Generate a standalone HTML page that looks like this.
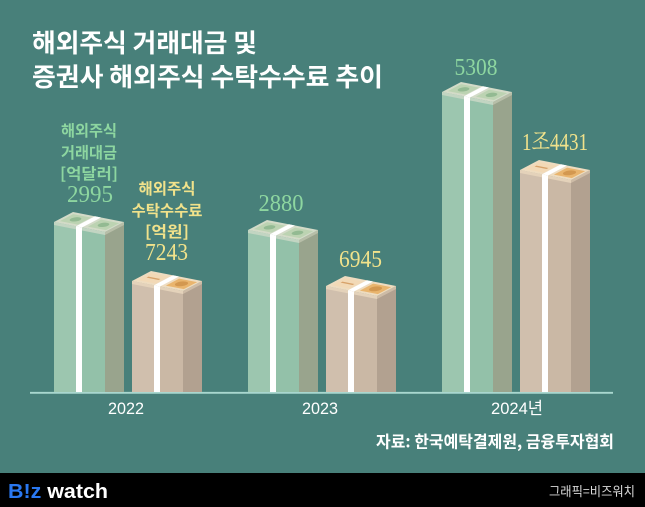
<!DOCTYPE html>
<html><head><meta charset="utf-8"><style>
html,body{margin:0;padding:0;background:#48807a;}
svg{display:block}
</style></head><body>
<svg width="645" height="507" viewBox="0 0 645 507" xmlns="http://www.w3.org/2000/svg">
<rect x="0" y="0" width="645" height="474" fill="#48807a"/>
<rect x="0" y="473" width="645" height="34" fill="#000"/>

<!-- Title -->
<g font-family="'Noto Sans CJK KR','Liberation Sans',sans-serif" font-weight="bold" fill="#fff" font-size="25.5">
<text x="32" y="52" textLength="225" lengthAdjust="spacingAndGlyphs">해외주식 거래대금 및</text>
<text x="32" y="86" textLength="351" lengthAdjust="spacingAndGlyphs">증권사 해외주식 수탁수수료 추이</text>
</g>

<!-- baseline -->
<line x1="30" y1="392.8" x2="613" y2="392.8" stroke="#a9d7cf" stroke-width="1.8"/>

<!-- ===== GREEN BARS ===== -->
<g transform="translate(54,222)">
 <polygon points="0,0 51,10 51,170 0,170" fill="#93c1a9"/>
 <polygon points="0,0 22,4.3 22,170 0,170" fill="#9cc6af"/>
 <polygon points="51,10 70,0 70,170 51,170" fill="#99a48d"/>
 <polygon points="0,0 51,10 51,13 0,3" fill="#c2d5c2"/>
 <polygon points="51,10 70,0 70,3 51,13" fill="#b7bea8"/>
 <polygon points="22,4.3 28,5.5 28,170 22,170" fill="#fff"/>
 <g transform="matrix(1,0.196,0.95,-0.5,0,0)">
  <rect width="51" height="20" fill="#d3dbc8"/>
  <rect x="3" y="3" width="18" height="14" fill="#bcd3b2"/>
  <ellipse cx="12" cy="10" rx="4.5" ry="4" fill="#93ba92"/>
  <rect x="31" y="3" width="18" height="14" fill="#bcd3b2"/>
  <ellipse cx="40" cy="10" rx="4.5" ry="4" fill="#93ba92"/>
  <rect x="22" y="0" width="6" height="20" fill="#fff"/>
 </g>
</g>
<g transform="translate(248,230)">
 <polygon points="0,0 51,10 51,162 0,162" fill="#93c1a9"/>
 <polygon points="0,0 22,4.3 22,162 0,162" fill="#9cc6af"/>
 <polygon points="51,10 70,0 70,162 51,162" fill="#99a48d"/>
 <polygon points="0,0 51,10 51,13 0,3" fill="#c2d5c2"/>
 <polygon points="51,10 70,0 70,3 51,13" fill="#b7bea8"/>
 <polygon points="22,4.3 28,5.5 28,162 22,162" fill="#fff"/>
 <g transform="matrix(1,0.196,0.95,-0.5,0,0)">
  <rect width="51" height="20" fill="#d3dbc8"/>
  <rect x="3" y="3" width="18" height="14" fill="#bcd3b2"/>
  <ellipse cx="12" cy="10" rx="4.5" ry="4" fill="#93ba92"/>
  <rect x="31" y="3" width="18" height="14" fill="#bcd3b2"/>
  <ellipse cx="40" cy="10" rx="4.5" ry="4" fill="#93ba92"/>
  <rect x="22" y="0" width="6" height="20" fill="#fff"/>
 </g>
</g>
<g transform="translate(442,92)">
 <polygon points="0,0 51,10 51,300 0,300" fill="#93c1a9"/>
 <polygon points="0,0 22,4.3 22,300 0,300" fill="#9cc6af"/>
 <polygon points="51,10 70,0 70,300 51,300" fill="#99a48d"/>
 <polygon points="0,0 51,10 51,13 0,3" fill="#c2d5c2"/>
 <polygon points="51,10 70,0 70,3 51,13" fill="#b7bea8"/>
 <polygon points="22,4.3 28,5.5 28,300 22,300" fill="#fff"/>
 <g transform="matrix(1,0.196,0.95,-0.5,0,0)">
  <rect width="51" height="20" fill="#d3dbc8"/>
  <rect x="3" y="3" width="18" height="14" fill="#bcd3b2"/>
  <ellipse cx="12" cy="10" rx="4.5" ry="4" fill="#93ba92"/>
  <rect x="31" y="3" width="18" height="14" fill="#bcd3b2"/>
  <ellipse cx="40" cy="10" rx="4.5" ry="4" fill="#93ba92"/>
  <rect x="22" y="0" width="6" height="20" fill="#fff"/>
 </g>
</g>

<!-- ===== TAN BARS ===== -->
<g transform="translate(132,281)">
 <polygon points="0,0 51,10 51,111 0,111" fill="#cab8a5"/>
 <polygon points="0,0 22,4.3 22,111 0,111" fill="#d0bfad"/>
 <polygon points="51,10 70,0 70,111 51,111" fill="#b2a190"/>
 <polygon points="0,0 51,10 51,13 0,3" fill="#e4d2ba"/>
 <polygon points="51,10 70,0 70,3 51,13" fill="#cdbba6"/>
 <polygon points="22,4.3 28,5.5 28,111 22,111" fill="#fff"/>
 <g transform="matrix(1,0.196,0.95,-0.5,0,0)">
  <rect width="51" height="20" fill="#eedcc0"/>
  <rect x="3" y="3" width="18" height="14" fill="#f2d9b6"/>
  <rect x="6" y="9" width="12" height="2" fill="#d7a26a"/>
  <rect x="31" y="3" width="18" height="14" fill="#e9b56e"/>
  <ellipse cx="40" cy="10" rx="5" ry="4.5" fill="#d39850"/>
  <rect x="22" y="0" width="6" height="20" fill="#fff"/>
 </g>
</g>
<g transform="translate(326,286)">
 <polygon points="0,0 51,10 51,106 0,106" fill="#cab8a5"/>
 <polygon points="0,0 22,4.3 22,106 0,106" fill="#d0bfad"/>
 <polygon points="51,10 70,0 70,106 51,106" fill="#b2a190"/>
 <polygon points="0,0 51,10 51,13 0,3" fill="#e4d2ba"/>
 <polygon points="51,10 70,0 70,3 51,13" fill="#cdbba6"/>
 <polygon points="22,4.3 28,5.5 28,106 22,106" fill="#fff"/>
 <g transform="matrix(1,0.196,0.95,-0.5,0,0)">
  <rect width="51" height="20" fill="#eedcc0"/>
  <rect x="3" y="3" width="18" height="14" fill="#f2d9b6"/>
  <rect x="6" y="9" width="12" height="2" fill="#d7a26a"/>
  <rect x="31" y="3" width="18" height="14" fill="#e9b56e"/>
  <ellipse cx="40" cy="10" rx="5" ry="4.5" fill="#d39850"/>
  <rect x="22" y="0" width="6" height="20" fill="#fff"/>
 </g>
</g>
<g transform="translate(520,170)">
 <polygon points="0,0 51,10 51,222 0,222" fill="#cab8a5"/>
 <polygon points="0,0 22,4.3 22,222 0,222" fill="#d0bfad"/>
 <polygon points="51,10 70,0 70,222 51,222" fill="#b2a190"/>
 <polygon points="0,0 51,10 51,13 0,3" fill="#e4d2ba"/>
 <polygon points="51,10 70,0 70,3 51,13" fill="#cdbba6"/>
 <polygon points="22,4.3 28,5.5 28,222 22,222" fill="#fff"/>
 <g transform="matrix(1,0.196,0.95,-0.5,0,0)">
  <rect width="51" height="20" fill="#eedcc0"/>
  <rect x="3" y="3" width="18" height="14" fill="#f2d9b6"/>
  <rect x="6" y="9" width="12" height="2" fill="#d7a26a"/>
  <rect x="31" y="3" width="18" height="14" fill="#e9b56e"/>
  <ellipse cx="40" cy="10" rx="5" ry="4.5" fill="#d39850"/>
  <rect x="22" y="0" width="6" height="20" fill="#fff"/>
 </g>
</g>

<!-- Korean labels -->
<g font-family="'Noto Sans CJK KR','Liberation Sans',sans-serif" font-size="15.5" font-weight="bold" text-anchor="middle">
 <g fill="#8dd6a0">
  <text x="89" y="136" textLength="56" lengthAdjust="spacingAndGlyphs">해외주식</text>
  <text x="89" y="158" textLength="56" lengthAdjust="spacingAndGlyphs">거래대금</text>
  <text x="89" y="179" textLength="58" lengthAdjust="spacingAndGlyphs">[억달러]</text>
 </g>
 <g fill="#f1e28b">
  <text x="167" y="194" textLength="57" lengthAdjust="spacingAndGlyphs">해외주식</text>
  <text x="167" y="216" textLength="71" lengthAdjust="spacingAndGlyphs">수탁수수료</text>
  <text x="167" y="237" textLength="44" lengthAdjust="spacingAndGlyphs">[억원]</text>
 </g>
</g>

<!-- Value labels -->
<g font-family="'Liberation Serif','Noto Serif CJK KR',serif" font-size="24.5" text-anchor="middle">
 <g fill="#8dd6a0">
  <text x="90" y="202" textLength="46" lengthAdjust="spacingAndGlyphs">2995</text>
  <text x="281" y="211" textLength="45" lengthAdjust="spacingAndGlyphs">2880</text>
  <text x="476" y="75" textLength="43" lengthAdjust="spacingAndGlyphs">5308</text>
 </g>
 <g fill="#f1e28b">
  <text x="166.5" y="260" textLength="43" lengthAdjust="spacingAndGlyphs">7243</text>
  <text x="360.5" y="267" textLength="43" lengthAdjust="spacingAndGlyphs">6945</text>
  <text x="555" y="150" textLength="66" lengthAdjust="spacingAndGlyphs">1조4431</text>
 </g>
</g>

<!-- Axis labels -->
<g font-family="'Liberation Sans','Noto Sans CJK KR',sans-serif" font-size="17" fill="#fff">
 <text x="126" y="414" text-anchor="middle" textLength="36" lengthAdjust="spacingAndGlyphs">2022</text>
 <text x="320" y="414" text-anchor="middle" textLength="36" lengthAdjust="spacingAndGlyphs">2023</text>
 <text x="491" y="414" textLength="52" lengthAdjust="spacingAndGlyphs">2024년</text>
</g>

<!-- Source -->
<text x="614" y="447.5" text-anchor="end" font-family="'Noto Sans CJK KR','Liberation Sans',sans-serif" font-size="16.5" font-weight="bold" fill="#fff" textLength="238" lengthAdjust="spacingAndGlyphs">자료: 한국예탁결제원, 금융투자협회</text>

<!-- Footer -->
<text x="8" y="498" font-family="'Liberation Sans','DejaVu Sans',sans-serif" font-size="20" font-weight="bold" textLength="100" lengthAdjust="spacingAndGlyphs"><tspan fill="#2a78f0">B!z</tspan><tspan fill="#fff"> watch</tspan></text>
<text x="635" y="496" text-anchor="end" font-family="'Noto Sans CJK KR','Liberation Sans',sans-serif" font-size="13" fill="#d9d9d9" textLength="86" lengthAdjust="spacingAndGlyphs">그래픽=비즈워치</text>
</svg>
</body></html>
